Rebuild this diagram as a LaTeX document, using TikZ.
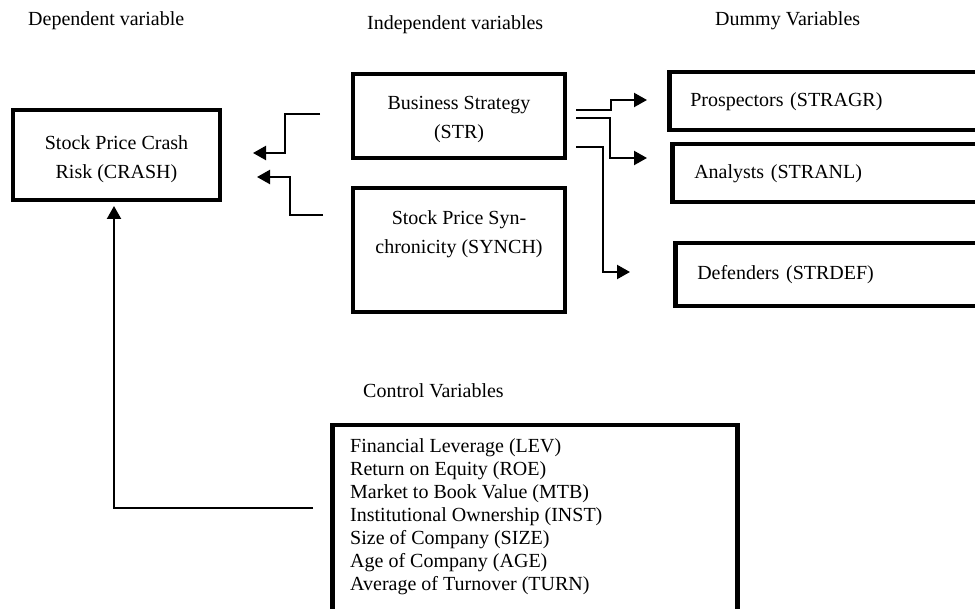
\documentclass[tikz,border=0pt]{standalone}
\usepackage{fontspec}
\setmainfont{Liberation Serif}
\usetikzlibrary{arrows.meta}
\begin{document}
\begin{tikzpicture}[x=1pt,y=-1pt,
  box/.style={draw, line width=4.5pt, rectangle, inner sep=0pt},
  conn/.style={line width=2.2pt},
  arr/.style={conn, -{Triangle[length=13pt,width=14pt]}},
  txt/.style={font=\fontsize{20}{29}\selectfont, align=center, inner sep=0pt},
  lst/.style={font=\fontsize{20}{23}\selectfont, align=left, inner sep=0pt}]
\clip (0,0) rectangle (975,609);
\fill[white] (0,0) rectangle (975,609);
% headings
\node[txt, anchor=west] (hdep) at (28,21) {Dependent variable};
\node[txt, anchor=west] (hind) at (367,25) {Independent variables};
\node[txt, anchor=west] (hdum) at (715,21) {Dummy Variables};
\node[txt, anchor=west] (hctl) at (363,391) {Control Variables};
% main boxes
\node[box, minimum width=207, minimum height=90] (crash) at (116.5,155) {};
\node[txt] (crashtxt) at (116.5,159) {Stock Price Crash\\Risk (CRASH)};
\node[box, minimum width=212, minimum height=84] (str) at (459,116) {};
\node[txt] (strtxt) at (459,120) {Business Strategy\\(STR)};
\node[box, minimum width=212, minimum height=124] (syn) at (459,250) {};
\node[txt, anchor=north] (syntxt) at (459,210) {Stock Price Syn-\\chronicity (SYNCH)};
% dummy boxes
\node[box, txt, anchor=north west, minimum height=58, text width=300, align=left, inner xsep=21pt] (pros) at (667,70) {Prospectors (STRAGR)};
\node[box, txt, anchor=north west, minimum height=58, text width=300, align=left, inner xsep=22pt] (anl) at (670,142) {Analysts (STRANL)};
\node[box, txt, anchor=north west, minimum height=63, text width=300, align=left, inner xsep=22pt] (def) at (673,241) {Defenders (STRDEF)};
% control box
\node[box, anchor=north west, minimum width=405, minimum height=190] (ctl) at (330,423) {};
\node[lst, anchor=north west] (ctltxt) at (350,438) {Financial Leverage (LEV)\\Return on Equity (ROE)\\Market to Book Value (MTB)\\Institutional Ownership (INST)\\Size of Company (SIZE)\\Age of Company (AGE)\\Average of Turnover (TURN)};
% connector coordinates
\coordinate (a1s) at (320,114); \coordinate (a1m) at (285,133); \coordinate (a1t) at (253,153);
\coordinate (a2s) at (323,215); \coordinate (a2m) at (290,196); \coordinate (a2t) at (257,177);
\coordinate (a3s) at (313,508); \coordinate (a3m) at (114,508); \coordinate (a3t) at (114,206);
\coordinate (b1s) at (576,110); \coordinate (b1m) at (611,105); \coordinate (b1t) at (647,100);
\coordinate (b2s) at (576,118); \coordinate (b2m) at (610,138); \coordinate (b2t) at (647,158);
\coordinate (b3s) at (576,147); \coordinate (b3m) at (603,210); \coordinate (b3t) at (630,272);
% connectors
\draw[arr] (a1s) -| (a1m) |- (a1t);
\draw[arr] (a2s) -| (a2m) |- (a2t);
\draw[arr] (a3s) -- (a3m) -- (a3t);
\draw[arr] (b1s) -| (b1m) |- (b1t);
\draw[arr] (b2s) -| (b2m) |- (b2t);
\draw[arr] (b3s) -| (b3m) |- (b3t);
\end{tikzpicture}
\end{document}
